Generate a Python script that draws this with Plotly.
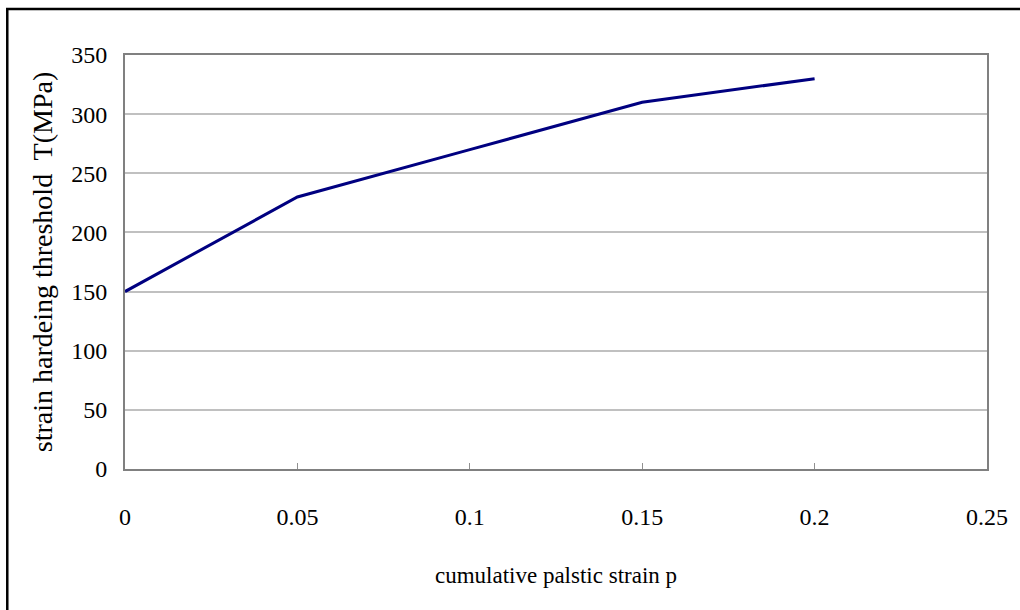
import plotly.graph_objects as go

# cumulative plastic strain p and corresponding hardening threshold T (MPa)
strain_p = [0.0, 0.05, 0.10, 0.15, 0.20]
threshold_T = [150, 230, 270, 310, 330]

x_ticks = [0, 0.05, 0.1, 0.15, 0.2, 0.25]
x_tick_text = ["0", "0.05", "0.1", "0.15", "0.2", "0.25"]
y_ticks = [0, 50, 100, 150, 200, 250, 300, 350]

FONT = "Liberation Serif, Times New Roman, serif"

fig = go.Figure()
fig.add_trace(go.Scatter(
    x=strain_p, y=threshold_T, mode="lines",
    line=dict(color="#000080", width=3),
    showlegend=False, hoverinfo="x+y",
))

fig.update_layout(
    width=1020, height=610,
    margin=dict(l=125, r=31, t=55, b=141),
    paper_bgcolor="white", plot_bgcolor="white",
    font=dict(family=FONT, color="black"),
    xaxis=dict(
        range=[0, 0.25], tickvals=x_ticks, ticktext=x_tick_text,
        showgrid=False, zeroline=False,
        showline=True, linecolor="#808080", linewidth=2, mirror=True,
        ticks="inside", ticklen=6, tickcolor="#909090", tickwidth=1,
        tickfont=dict(size=24, family=FONT), ticklabelstandoff=25,
        title=dict(text="cumulative palstic strain p", font=dict(size=23, family=FONT), standoff=38),
    ),
    yaxis=dict(
        range=[0, 350], tickvals=y_ticks,
        showgrid=True, gridcolor="#c0c0c0", gridwidth=1.5, zeroline=False,
        showline=True, linecolor="#808080", linewidth=2, mirror=True,
        ticks="", tickfont=dict(size=24, family=FONT), ticklabelstandoff=11,
        title=dict(text="strain hardeing threshold  T(MPa)", font=dict(size=28, family=FONT), standoff=10),
    ),
)

# outer frame around the whole chart
fig.add_shape(
    type="rect", xref="paper", yref="paper",
    x0=(7 - 125) / 864, x1=(1030 - 125) / 864,
    y0=(469 - 625) / 413, y1=1 + (56 - 10) / 413,
    line=dict(color="black", width=2.5), fillcolor="rgba(0,0,0,0)", layer="below",
)

fig.write_html("out.html")
